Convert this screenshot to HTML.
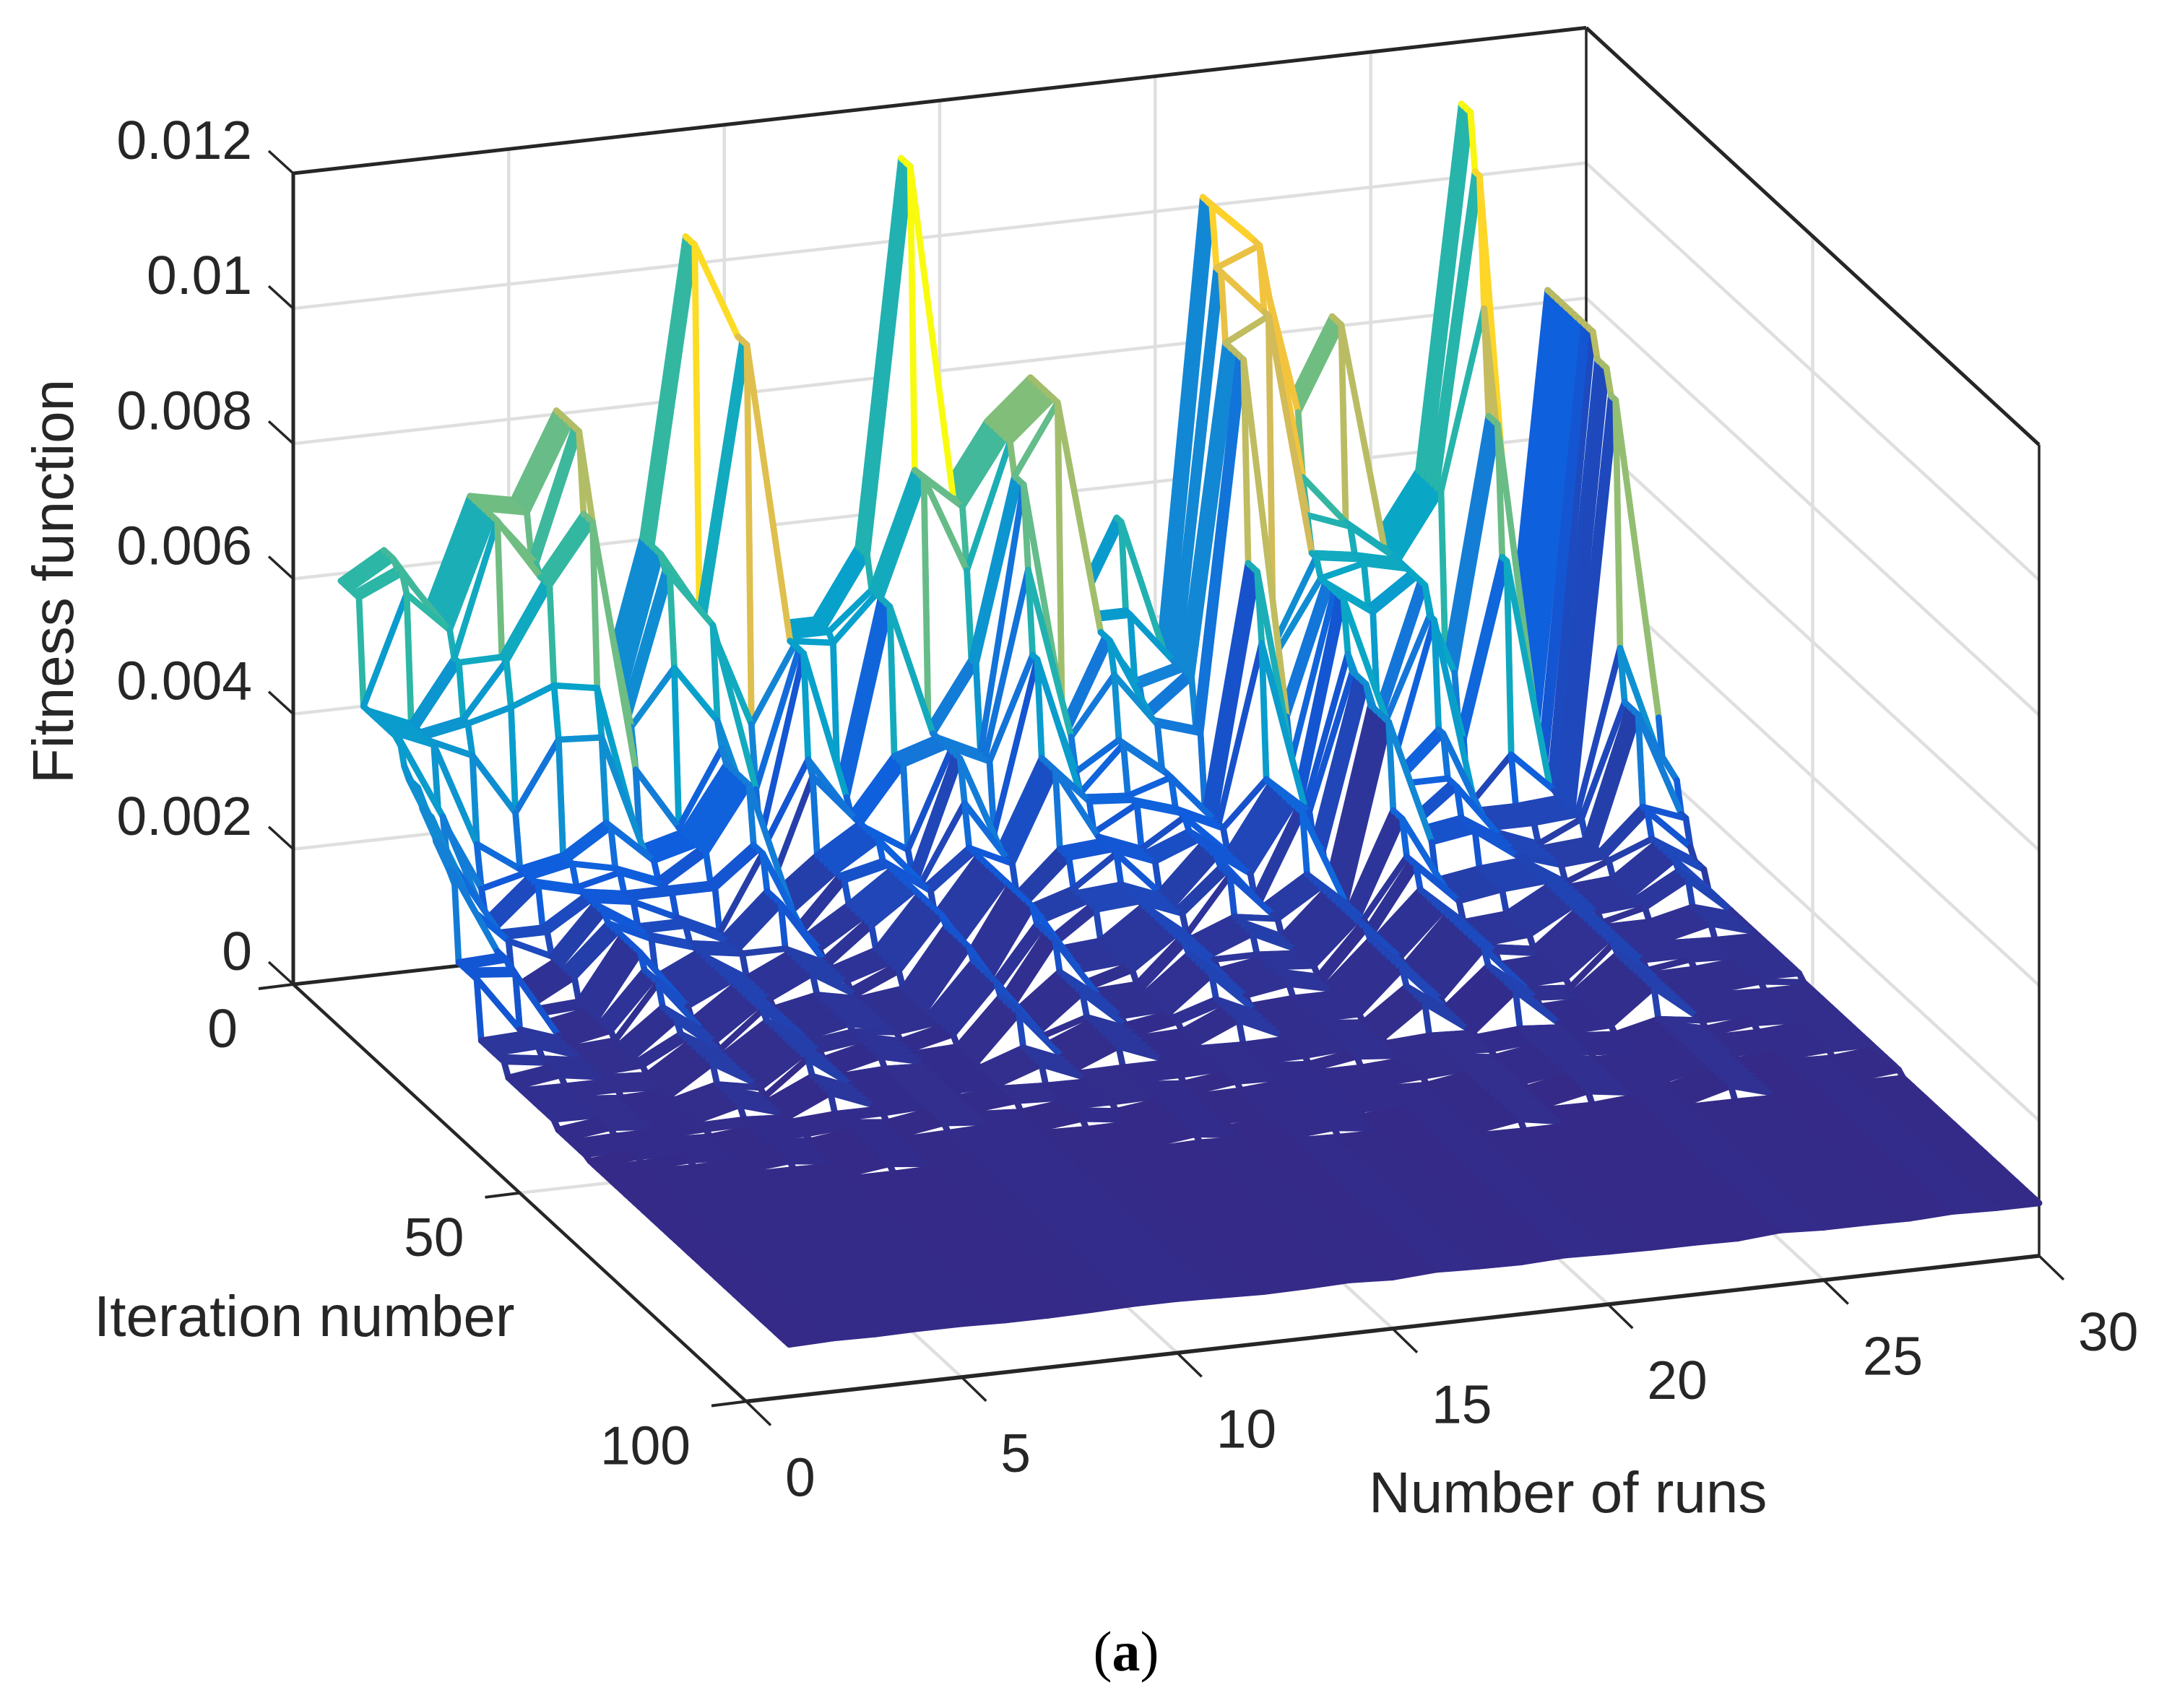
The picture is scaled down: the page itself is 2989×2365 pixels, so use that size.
<!DOCTYPE html>
<html lang="en">
<head>
<meta charset="utf-8">
<title>Fitness function mesh</title>
<style>
html,body{margin:0;padding:0;background:#fff;}
svg{display:block;}
text{fill:#262626;font-family:"Liberation Sans",Arial,sans-serif;}
</style>
</head>
<body>
<svg id="chart" xmlns="http://www.w3.org/2000/svg" width="2989" height="2365" viewBox="0 0 2989 2365">
  <rect x="0" y="0" width="2989" height="2365" fill="#fff"/>
  <g id="grid"></g>
  <g id="backAxes"></g>
  <g id="mesh"></g>
  <g id="frontAxes"></g>
  <g id="labels"></g>
  <text font-size="80" text-anchor="middle" transform="translate(101 805) rotate(-90)">Fitness function</text>
  <text font-size="80" x="130" y="1850">Iteration number</text>
  <text font-size="80" x="1895" y="2094">Number of runs</text>
  <text font-size="78" text-anchor="middle" x="1559" y="2313" style="font-family:'Liberation Serif',serif;fill:#000">(<tspan font-weight="bold">a</tspan>)</text>
</svg>
<script>
// Convergence steps per run: [first iteration of the step, fitness in units of 0.001]. Each value holds until the next step.
const run01 = [[1,5.96],[6,4.41],[15,4.08],[16,3.95],[19,3.7],[22,3.4],[25,3.16],[27,1.92],[32,1.07],[38,0.89],[49,0.8],[56,0.77]];
const run02 = [[1,6.34],[4,6.25],[6,6.0],[7,4.14],[13,3.2],[15,2.6],[18,2.2],[22,1.95],[29,1.86],[31,1.1],[36,0.98],[41,0.88],[52,0.82],[58,0.79]];
const run03 = [[1,5.4],[7,5.04],[9,4.26],[11,3.85],[12,2.6],[13,2.0],[14,1.6],[20,0.96],[27,0.88],[44,0.82],[60,0.78]];
const run04 = [[1,7.0],[8,5.05],[10,4.43],[11,2.93],[12,2.16],[17,1.6],[19,1.3],[25,1.0],[33,0.92],[40,0.84],[54,0.79]];
const run05 = [[1,6.87],[5,6.24],[7,6.1],[10,4.68],[11,3.94],[12,2.29],[15,2.0],[22,1.9],[30,1.7],[34,1.4],[38,1.25],[46,1.0],[52,0.85],[63,0.79]];
const run06 = [[1,8.12],[7,6.96],[10,4.57],[11,3.9],[12,2.7],[14,2.15],[16,1.9],[19,1.6],[23,1.1],[31,0.95],[37,0.88],[47,0.81],[57,0.77]];
const run07 = [[1,3.8],[9,3.23],[10,2.13],[14,1.9],[18,1.6],[21,1.4],[38,1.3],[48,1.1],[53,0.85],[66,0.77]];
const run08 = [[1,6.1],[6,5.92],[8,4.6],[9,2.3],[16,1.9],[18,1.3],[24,1.0],[30,0.92],[41,0.85],[55,0.78]];
const run09 = [[1,10.48],[4,5.1],[8,3.75],[9,3.4],[10,3.23],[16,2.4],[19,1.9],[23,1.3],[30,1.05],[38,1.0],[45,0.88],[59,0.8]];
const run10 = [[1,9.05],[6,3.5],[7,2.6],[8,1.9],[10,1.3],[16,1.1],[22,1.0],[28,0.92],[39,0.85],[52,0.82],[62,0.8]];
const run11 = [[1,4.6],[9,3.09],[10,2.9],[11,1.8],[18,1.5],[24,1.2],[30,1.0],[42,0.88],[56,0.78]];
const run12 = [[1,4.6],[5,4.5],[6,2.4],[9,2.2],[16,1.95],[30,1.85],[36,1.7],[42,1.55],[47,1.1],[52,0.85],[61,0.76]];
const run13 = [[1,5.6],[4,5.15],[9,3.0],[12,1.8],[13,1.5],[18,1.2],[25,1.0],[33,0.9],[43,0.84],[58,0.77]];
const run14 = [[1,11.28],[4,6.85],[7,3.2],[15,2.6],[16,2.0],[31,1.8],[36,1.4],[42,1.1],[50,0.85],[67,0.79]];
const run15 = [[1,6.3],[6,5.42],[7,4.16],[9,2.9],[12,1.9],[13,1.7],[17,1.3],[24,1.05],[32,0.92],[41,0.85],[54,0.79],[64,0.76]];
const run16 = [[1,7.25],[7,6.8],[10,5.6],[11,4.4],[13,3.0],[17,1.9],[20,1.5],[26,1.1],[34,0.95],[44,0.87],[57,0.8]];
const run17 = [[1,7.82],[8,3.06],[11,2.6],[12,2.35],[15,1.95],[21,1.55],[36,1.45],[42,1.15],[48,0.85],[69,0.78]];
const run18 = [[1,4.35],[10,3.9],[11,3.0],[13,2.3],[16,1.7],[20,1.3],[26,1.05],[33,0.95],[40,0.86],[53,0.8],[65,0.77]];
const run19 = [[1,5.6],[3,4.35],[5,3.43],[7,3.1],[11,2.5],[14,2.1],[17,1.95],[24,1.85],[27,1.3],[32,1.05],[40,0.9],[55,0.8]];
const run20 = [[1,3.6],[9,2.9],[11,1.8],[16,1.5],[22,1.2],[28,1.0],[36,0.9],[46,0.84],[60,0.78]];
const run21 = [[1,10.2],[4,9.34],[6,8.35],[11,5.4],[14,4.4],[15,2.45],[24,1.6],[38,1.5],[46,1.3],[51,0.88],[72,0.77]];
const run22 = [[1,9.6],[5,8.68],[7,3.85],[9,3.0],[11,2.4],[12,1.9],[16,1.5],[19,1.05],[28,0.98],[36,0.92],[45,0.85],[56,0.8],[63,0.77]];
const run23 = [[1,7.0],[4,6.1],[5,5.6],[6,5.1],[8,4.85],[14,4.1],[15,3.9],[19,3.65],[24,2.4],[27,1.9],[30,1.6],[45,1.4],[52,0.9],[68,0.76]];
const run24 = [[1,8.22],[4,5.36],[6,5.0],[9,4.4],[11,3.0],[14,2.3],[18,1.8],[24,1.3],[30,1.05],[38,0.92],[47,0.85],[59,0.81]];
const run25 = [[1,4.85],[13,4.46],[15,2.9],[17,2.3],[20,1.9],[24,1.4],[30,1.1],[36,0.95],[44,0.87],[54,0.8],[66,0.78]];
const run26 = [[1,5.8],[7,3.3],[10,2.44],[12,1.5],[23,1.45],[45,1.36],[54,0.95],[71,0.78]];
const run27 = [[1,11.15],[4,10.33],[6,8.43],[7,6.9],[10,5.0],[12,2.2],[13,1.5],[18,1.25],[24,1.05],[32,0.95],[42,0.86],[55,0.8],[62,0.77]];
const run28 = [[1,2.2],[9,1.9],[11,1.6],[13,1.55],[19,1.3],[25,1.1],[33,0.95],[43,0.87],[57,0.8]];
const run29 = [[1,8.25],[12,7.9],[15,7.55],[17,3.94],[18,3.2],[22,1.9],[24,1.55],[30,1.45],[33,1.1],[38,0.92],[49,0.84],[64,0.78]];
const run30 = [[1,2.78],[17,2.1],[21,1.66],[23,1.3],[24,1.15],[27,0.91],[48,0.84],[70,0.78]];
const runSeries = [run01,run02,run03,run04,run05,run06,run07,run08,run09,run10,run11,run12,run13,run14,run15,run16,run17,run18,run19,run20,run21,run22,run23,run24,run25,run26,run27,run28,run29,run30];

const xTicks = [0,5,10,15,20,25,30];
const yTicks = [0,50,100];
const zTicks = [0,0.002,0.004,0.006,0.008,0.01,0.012];
const xTickLabels = ["0","5","10","15","20","25","30"];
const yTickLabels = ["0","50","100"];
const zTickLabels = ["0","0.002","0.004","0.006","0.008","0.01","0.012"];
const lastIteration = 100;
const colorLow = 0.76;
const colorHigh = 11.28;
const parulaStops = [[53,42,135],[15,92,221],[20,129,214],[6,164,202],[46,183,164],[135,191,119],[209,187,89],[254,200,50],[249,251,14]];

const NS = "http://www.w3.org/2000/svg";
const xScale = [59.667, -6.72];
const yScale = [6.27, 5.775];
const zScale = 1123 / 0.012;
const origin = [406, 1363];
const xMax = 30, yMax = 100, zMax = 0.012;
const meshWidth = 8.7;

function project(x, y, z) {
  return [origin[0] + xScale[0] * x + yScale[0] * y, origin[1] + xScale[1] * x + yScale[1] * y - zScale * z];
}
function valueAt(steps, iter) {
  let v = steps[0][1];
  for (const s of steps) { if (s[0] <= iter) v = s[1]; }
  return v;
}
function parula(v) {
  let t = (v - colorLow) / (colorHigh - colorLow);
  t = Math.max(0, Math.min(1, t)) * (parulaStops.length - 1);
  const k = Math.min(parulaStops.length - 2, Math.floor(t));
  const f = t - k;
  const a = parulaStops[k], b = parulaStops[k + 1];
  return "rgb(" + [0,1,2].map(c => Math.round(a[c] + (b[c] - a[c]) * f)).join(",") + ")";
}
function makeLine(parent, p, q, color, width, name) {
  const el = document.createElementNS(NS, "line");
  el.setAttribute("x1", p[0].toFixed(1));
  el.setAttribute("y1", p[1].toFixed(1));
  el.setAttribute("x2", q[0].toFixed(1));
  el.setAttribute("y2", q[1].toFixed(1));
  el.setAttribute("stroke", color);
  el.setAttribute("stroke-width", width);
  
  
  parent.appendChild(el);
  return el;
}
function makeLabel(parent, x, y, str, anchor, name) {
  const el = document.createElementNS(NS, "text");
  el.setAttribute("x", x);
  el.setAttribute("y", y);
  el.setAttribute("font-size", "75");
  el.setAttribute("text-anchor", anchor);
  el.textContent = str;
  
  
  parent.appendChild(el);
}

const GRID = "#dfdfdf", INK = "#262626";
const gridG = document.getElementById("grid");
const backG = document.getElementById("backAxes");
const meshG = document.getElementById("mesh");
const frontG = document.getElementById("frontAxes");
const labelG = document.getElementById("labels");

// grid lines on back wall, right wall and floor
xTicks.forEach(function (x) {
  if (x > 0 && x < xMax) {
    makeLine(gridG, project(x, 0, 0), project(x, 0, zMax), GRID, 4.5, "x-grid-line-back-wall");
    makeLine(gridG, project(x, 0, 0), project(x, yMax, 0), GRID, 4.5, "x-grid-line-floor");
  }
});
yTicks.forEach(function (y) {
  if (y > 0 && y < yMax) {
    makeLine(gridG, project(0, y, 0), project(xMax, y, 0), GRID, 4.5, "y-grid-line-floor");
    makeLine(gridG, project(xMax, y, 0), project(xMax, y, zMax), GRID, 4.5, "y-grid-line-right-wall");
  }
});
zTicks.forEach(function (z) {
  if (z > 0 && z < zMax) {
    makeLine(gridG, project(0, 0, z), project(xMax, 0, z), GRID, 4.5, "z-grid-line-back-wall");
    makeLine(gridG, project(xMax, 0, z), project(xMax, yMax, z), GRID, 4.5, "z-grid-line-right-wall");
  }
});

// box lines behind the surface
makeLine(backG, project(0, 0, 0), project(xMax, 0, 0), INK, 5, "back-floor-edge");
makeLine(backG, project(0, 0, 0), project(0, 0, zMax), INK, 5, "z-axis-line");
makeLine(backG, project(0, 0, zMax), project(xMax, 0, zMax), INK, 5, "back-top-edge");
makeLine(backG, project(xMax, 0, 0), project(xMax, 0, zMax), INK, 3.5, "back-right-vertical-edge");
makeLine(backG, project(xMax, 0, zMax), project(xMax, yMax, zMax), INK, 5, "right-top-edge");
makeLine(backG, project(xMax, yMax, 0), project(xMax, yMax, zMax), INK, 3.5, "front-right-vertical-edge");
makeLine(backG, project(0, 0, 0), project(0, yMax, 0), INK, 4.5, "y-axis-line");
makeLine(backG, project(0, yMax, 0), project(xMax, yMax, 0), INK, 5.5, "x-axis-line");

// mesh drawn back-to-front so white faces hide what is behind them
const values = runSeries.map(function (steps) {
  const col = [];
  for (let it = 1; it <= lastIteration; it++) col.push(valueAt(steps, it));
  return col;
});
function vertex(r, it) {
  return project(r + 1, it + 1, values[r][it] / 1000);
}
for (let it = 0; it < lastIteration - 1; it++) {
  for (let r = runSeries.length - 2; r >= 0; r--) {
    const a = vertex(r, it), b = vertex(r + 1, it), c = vertex(r + 1, it + 1), d = vertex(r, it + 1);
    const cell = document.createElementNS(NS, "g");
    
    
    cell.setAttribute("stroke-linecap", "round");
    const face = document.createElementNS(NS, "polygon");
    face.setAttribute("points", [a, b, c, d].map(p => p[0].toFixed(1) + "," + p[1].toFixed(1)).join(" "));
    face.setAttribute("fill", "#fff");
    
    
    cell.appendChild(face);
    makeLine(cell, a, b, parula(values[r][it]), meshWidth, "mesh-edge-across-runs");
    makeLine(cell, b, c, parula(values[r + 1][it]), meshWidth, "mesh-edge-along-iterations");
    makeLine(cell, a, d, parula(values[r][it]), meshWidth, "mesh-edge-along-iterations");
    makeLine(cell, d, c, parula(values[r][it + 1]), meshWidth, "mesh-edge-across-runs");
    meshG.appendChild(cell);
  }
}

// ticks
xTicks.forEach(function (x, i) {
  const p = project(x, yMax, 0);
  makeLine(frontG, p, [p[0] + 34, p[1] + 33], INK, 3.5, "x-tick");
  makeLabel(labelG, (p[0] + 54).toFixed(1), (p[1] + 131).toFixed(1), xTickLabels[i], "start", "x-tick-label");
});
yTicks.forEach(function (y, i) {
  const p = project(0, y, 0);
  makeLine(frontG, p, [p[0] - 48, p[1] + 6], INK, 4, "y-tick");
  makeLabel(labelG, (p[0] - 77).toFixed(1), (p[1] + 87).toFixed(1), yTickLabels[i], "end", "y-tick-label");
});
zTicks.forEach(function (z, i) {
  const p = project(0, 0, z);
  makeLine(frontG, p, [p[0] - 34, p[1] - 31], INK, 3.5, "z-tick");
  makeLabel(labelG, (p[0] - 57).toFixed(1), (p[1] - 20).toFixed(1), zTickLabels[i], "end", "z-tick-label");
});
</script>
</body>
</html>
